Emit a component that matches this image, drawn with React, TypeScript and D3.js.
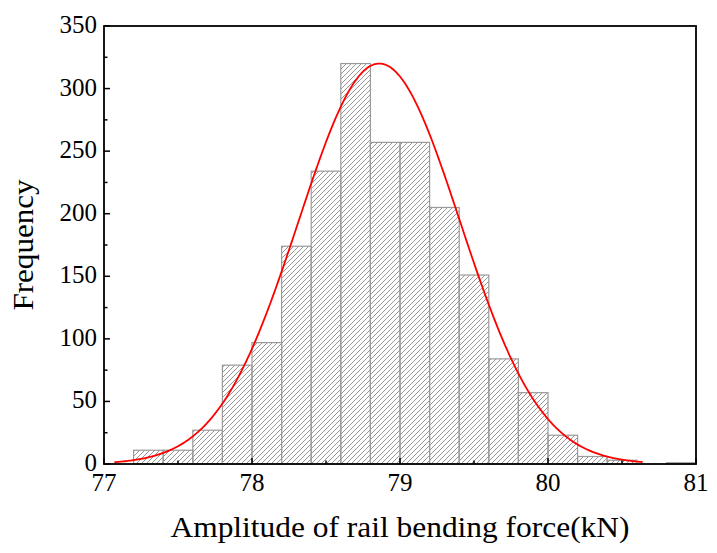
import React from "react";
import * as d3 from "d3";

// Histogram bins (left edge, right edge) and counts
const binStarts = [77.2, 77.4, 77.6, 77.8, 78.0, 78.2, 78.4, 78.6, 78.8, 79.0, 79.2, 79.4, 79.6, 79.8, 80.0, 80.2, 80.4, 80.6, 80.8];
const binWidth = 0.2;
const counts = [11, 11, 27, 79, 97, 174, 234, 320, 257, 257, 205, 151, 84, 57, 23, 6, 3, 0, 1];

// Fitted normal curve parameters
const fitMean = 78.86;
const fitSigma = 0.545;
const fitPeak = 320;
const fitRange = [77.07, 80.64];

const xTicks = [77, 78, 79, 80, 81];
const xMinorTicks = [77.5, 78.5, 79.5, 80.5];
const yTicks = [0, 50, 100, 150, 200, 250, 300, 350];
const yMinorTicks = [25, 75, 125, 175, 225, 275, 325];

const W = 717;
const H = 553;
const left = 104;
const right = 696;
const top = 26;
const bottom = 464;
const FONT = "'Liberation Serif', 'Times New Roman', serif";

export default function App() {
  const x = d3.scaleLinear().domain([77, 81]).range([left, right]);
  const y = d3.scaleLinear().domain([0, 350]).range([bottom, top]);

  const curveXs = d3.range(fitRange[0], fitRange[1] + 1e-9, 0.01);
  const curvePts: [number, number][] = curveXs.map((v) => [
    v,
    fitPeak * Math.exp(-((v - fitMean) ** 2) / (2 * fitSigma * fitSigma)),
  ]);
  const line = d3
    .line<[number, number]>()
    .x((d) => x(d[0]))
    .y((d) => y(d[1]))
    .curve(d3.curveLinear);

  return (
    <svg width={W} height={H} style={{ position: "absolute", left: 0, top: 0, background: "#fff" }}>
      <defs>
        <pattern id="hatch" patternUnits="userSpaceOnUse" width={5} height={5}>
          <path d="M-1,1 L1,-1 M0,5 L5,0 M4,6 L6,4" stroke="#8a8a8a" strokeWidth={0.9} />
        </pattern>
      </defs>
      <rect x={0} y={0} width={W} height={H} fill="#fff" />
      {binStarts.map((b, i) =>
        counts[i] > 0 ? (
          <rect
            key={i}
            x={x(b)}
            y={y(counts[i])}
            width={x(b + binWidth) - x(b)}
            height={y(0) - y(counts[i])}
            fill="url(#hatch)"
            stroke="#9a9a9a"
            strokeWidth={1.2}
          />
        ) : null
      )}
      <path d={line(curvePts) || ""} fill="none" stroke="#ff0000" strokeWidth={1.8} />
      {/* frame */}
      <rect x={left} y={top} width={right - left} height={bottom - top} fill="none" stroke="#000" strokeWidth={1.8} />
      {/* ticks */}
      {xTicks.map((t) => (
        <line key={"xt" + t} x1={x(t)} x2={x(t)} y1={bottom} y2={bottom - 6} stroke="#000" strokeWidth={1.5} />
      ))}
      {xMinorTicks.map((t) => (
        <line key={"xm" + t} x1={x(t)} x2={x(t)} y1={bottom} y2={bottom - 3.5} stroke="#000" strokeWidth={1.5} />
      ))}
      {yTicks.map((t) => (
        <line key={"yt" + t} x1={left} x2={left + 6} y1={y(t)} y2={y(t)} stroke="#000" strokeWidth={1.5} />
      ))}
      {yMinorTicks.map((t) => (
        <line key={"ym" + t} x1={left} x2={left + 3.5} y1={y(t)} y2={y(t)} stroke="#000" strokeWidth={1.5} />
      ))}
      {/* tick labels */}
      {xTicks.map((t) => (
        <text key={"xl" + t} x={x(t)} y={490.5} textAnchor="middle" fontFamily={FONT} fontSize={25} fill="#000">
          {t}
        </text>
      ))}
      {yTicks.map((t) => (
        <text key={"yl" + t} x={97} y={y(t) + 7} textAnchor="end" fontFamily={FONT} fontSize={25} fill="#000">
          {t}
        </text>
      ))}
      {/* axis titles */}
      <text
        x={(left + right) / 2}
        y={537}
        textAnchor="middle"
        fontFamily={FONT}
        fontSize={30}
        fill="#000"
        textLength={459}
        lengthAdjust="spacingAndGlyphs"
      >
        Amplitude of rail bending force(kN)
      </text>
      <text
        transform={`translate(33, ${(top + bottom) / 2}) rotate(-90)`}
        textAnchor="middle"
        fontFamily={FONT}
        fontSize={30}
        fill="#000"
        textLength={131}
        lengthAdjust="spacingAndGlyphs"
      >
        Frequency
      </text>
    </svg>
  );
}
